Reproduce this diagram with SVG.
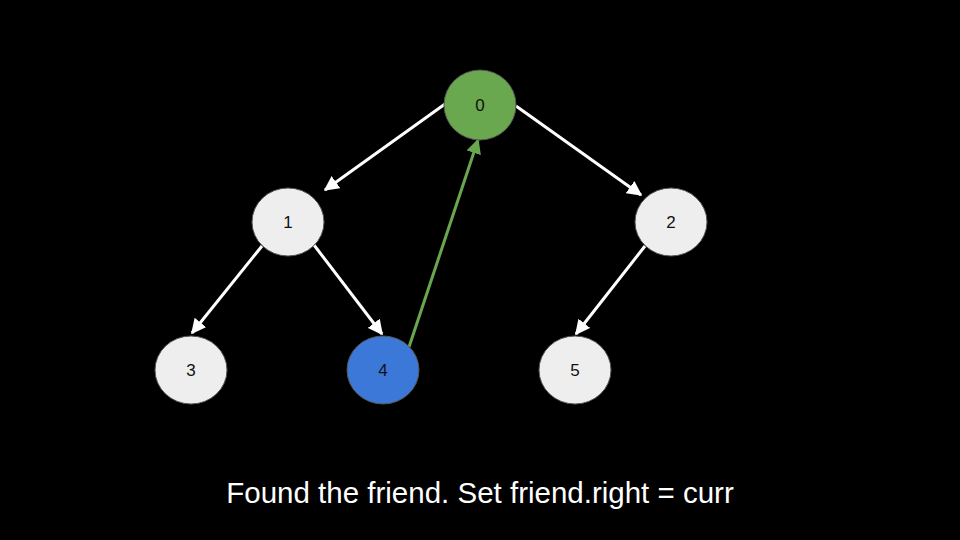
<svg xmlns="http://www.w3.org/2000/svg" width="960" height="540" viewBox="0 0 960 540">
<defs>
<style>
.n{stroke:#555;stroke-width:1}
.t{font-family:"Liberation Sans",Arial,sans-serif;font-size:17px;fill:#111;text-anchor:middle;dominant-baseline:central}
.e{stroke:#fff;stroke-width:3;fill:none}
.g{stroke:#6aa84f;stroke-width:3;fill:none}
</style>
<marker id="aw" viewBox="0 0 10 10" refX="9" refY="5" markerWidth="5" markerHeight="5" orient="auto" markerUnits="strokeWidth"><path d="M0,0 L10,5 L0,10 z" fill="#fff"/></marker>
<marker id="ag" viewBox="0 0 10 10" refX="9" refY="5" markerWidth="5" markerHeight="5" orient="auto" markerUnits="strokeWidth"><path d="M0,0 L10,5 L0,10 z" fill="#6aa84f"/></marker>
</defs>
<rect width="960" height="540" fill="#000"/>
<g id="connectors">
<line class="e" x1="445" y1="104" x2="325" y2="190" marker-end="url(#aw)"/>
<line class="e" x1="516" y1="106" x2="641" y2="195" marker-end="url(#aw)"/>
<line class="e" x1="262" y1="246" x2="192" y2="333" marker-end="url(#aw)"/>
<line class="e" x1="314" y1="245" x2="382" y2="334" marker-end="url(#aw)"/>
<line class="e" x1="645" y1="246" x2="576" y2="334" marker-end="url(#aw)"/>
<line class="g" x1="409" y1="347" x2="478" y2="140" marker-end="url(#ag)"/>
</g>
<g id="node0"><ellipse class="n" cx="480" cy="105" rx="36" ry="35" fill="#6aa84f"/><text class="t" x="480" y="105">0</text></g>
<g id="node1"><ellipse class="n" cx="288" cy="222" rx="36" ry="34" fill="#eeeeee"/><text class="t" x="288" y="222">1</text></g>
<g id="node2"><ellipse class="n" cx="671" cy="222" rx="36" ry="34" fill="#eeeeee"/><text class="t" x="671" y="222">2</text></g>
<g id="node3"><ellipse class="n" cx="191" cy="370" rx="36" ry="34" fill="#eeeeee"/><text class="t" x="191" y="370">3</text></g>
<g id="node4"><ellipse class="n" cx="383" cy="370" rx="36" ry="34" fill="#3c78d8"/><text class="t" x="383" y="370">4</text></g>
<g id="node5"><ellipse class="n" cx="575" cy="370" rx="36" ry="34" fill="#eeeeee"/><text class="t" x="575" y="370">5</text></g>
<text x="480" y="503" font-family="'Liberation Sans',Arial,sans-serif" font-size="29.5" fill="#fff" text-anchor="middle">Found the friend. Set friend.right = curr</text>
</svg>
